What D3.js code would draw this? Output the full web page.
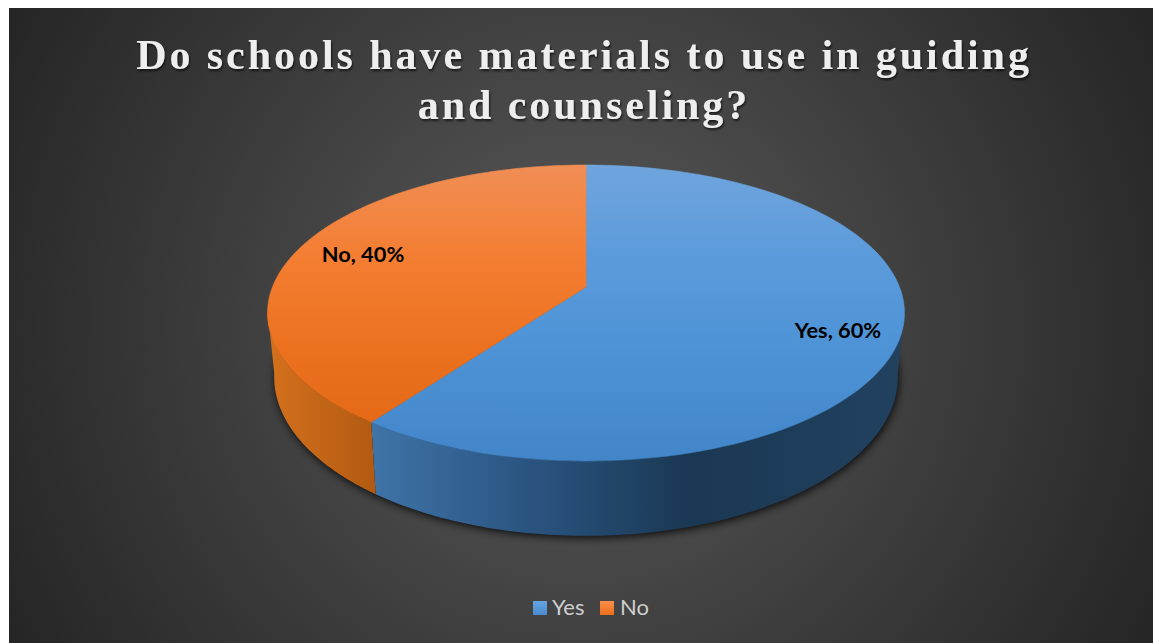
<!DOCTYPE html>
<html>
<head>
<meta charset="utf-8">
<script src="https://cdn.jsdelivr.net/npm/d3@7"></script>
<style>
html,body{margin:0;padding:0;background:#fff;}
svg{display:block;}
</style>
</head>
<body>
<svg id="chart" width="1153" height="643"></svg>
<script>
const titleLines = ["Do schools have materials to use in guiding", "and counseling?"];
const categories = ["Yes", "No"];
const shares = [60, 40];
const topStops = [
  [[0, "#70a5de"], [0.3, "#5c9bdb"], [0.55, "#5095d7"], [1, "#4286c9"]],
  [[0, "#f08e55"], [0.3, "#f47e33"], [0.6, "#ec7220"], [1, "#e26612"]]
];
const keyStops = [
  [[0, "#66a3e0"], [1, "#4a8ccf"]],
  [[0, "#f98f4c"], [1, "#ec6f1a"]]
];
const sideStops = [
  [[0, "#3f74a8"], [0.3, "#2a5480"], [0.6, "#1a3853"], [1, "#21415f"]],
  [[0, "#d3701c"], [1, "#b25a12"]]
];

const svg = d3.select("#chart");
const defs = svg.append("defs");

const addStops = (grad, stops) => stops.forEach(s =>
  grad.append("stop").attr("offset", s[0]).attr("stop-color", s[1]));

// backdrop: radial glow that falls off toward the corners
const bg = defs.append("radialGradient").attr("id", "bg")
  .attr("gradientUnits", "userSpaceOnUse")
  .attr("cx", 581).attr("cy", 325).attr("r", 640);
addStops(bg, [[0, "#5a5a5a"], [1, "#262626"]]);

categories.forEach((c, i) => {
  addStops(defs.append("linearGradient").attr("id", "top" + i)
    .attr("gradientUnits", "userSpaceOnUse")
    .attr("x1", 0).attr("x2", 0).attr("y1", 165).attr("y2", 461), topStops[i]);
  addStops(defs.append("linearGradient").attr("id", "key" + i)
    .attr("x1", 0).attr("x2", 0).attr("y1", 0).attr("y2", 1), keyStops[i]);
});

// side walls shade horizontally across their own span
const sideSpans = [[371, 900], [270, 376]];
categories.forEach((c, i) => {
  addStops(defs.append("linearGradient").attr("id", "side" + i)
    .attr("gradientUnits", "userSpaceOnUse")
    .attr("x1", sideSpans[i][0]).attr("x2", sideSpans[i][1]).attr("y1", 0).attr("y2", 0), sideStops[i]);
});

const soft = defs.append("filter").attr("id", "soft")
  .attr("x", "-10%").attr("y", "-10%").attr("width", "120%").attr("height", "120%");
soft.append("feGaussianBlur").attr("stdDeviation", 4);

const titleShadow = defs.append("filter").attr("id", "titleShadow")
  .attr("x", "-5%").attr("y", "-20%").attr("width", "110%").attr("height", "140%");
titleShadow.append("feDropShadow").attr("dx", 1).attr("dy", 2).attr("stdDeviation", 1.2)
  .attr("flood-color", "#000").attr("flood-opacity", 0.65);

svg.append("rect").attr("x", 9).attr("y", 8).attr("width", 1144).attr("height", 635).attr("fill", "url(#bg)");

// perspective discs: upper face and lower rim, parameterised by angle clockwise from twelve o'clock
const upper = { cx: 586, cy: 287, a: 313.5, b: 143.4, k: 0.1757 };
const lower = { cx: 586, cy: 349, a: 307, b: 154, k: 0.1757 };
const project = (d, t) => {
  const u = Math.sin(t), v = -Math.cos(t), w = 1 - d.k * v;
  return [d.cx + d.a * u / w, d.cy + d.b * v / w];
};
const sweep = (d, t0, t1) => d3.range(0, 121).map(n => project(d, t0 + (t1 - t0) * n / 120));
const line = d3.line();

const slices = d3.pie().sort(null).value(v => v)(shares);

// ground shadow hugging the lower rim, slightly right and below
svg.append("path")
  .attr("d", line(sweep(lower, 0, 2 * Math.PI)) + "Z")
  .attr("transform", "translate(1,2)")
  .attr("fill", "#000").attr("opacity", 0.85).attr("filter", "url(#soft)");

// side walls between the two silhouette tangents of the disc
const faceStart = Math.PI / 2 + 0.155, faceEnd = 3 * Math.PI / 2 - 0.155;
slices.forEach((s, i) => {
  const t0 = Math.max(s.startAngle, faceStart), t1 = Math.min(s.endAngle, faceEnd);
  svg.append("path")
    .attr("d", line(sweep(upper, t0, t1).concat(sweep(lower, t1, t0))) + "Z")
    .attr("fill", `url(#side${i})`);
});

// upper faces, with a hairline of their own fill to close the seam between slices
slices.forEach((s, i) => {
  svg.append("path")
    .attr("d", line([[upper.cx, upper.cy]].concat(sweep(upper, s.startAngle, s.endAngle))) + "Z")
    .attr("fill", `url(#top${i})`)
    .attr("stroke", `url(#top${i})`).attr("stroke-width", 0.6);
});

// slice labels
const labelAnchors = [[838, 338], [363, 262]];
categories.forEach((c, i) => {
  svg.append("text")
    .attr("x", labelAnchors[i][0]).attr("y", labelAnchors[i][1])
    .attr("text-anchor", "middle")
    .attr("font-family", "Lato, sans-serif").attr("font-weight", 700).attr("font-size", 21.8)
    .attr("fill", "#000")
    .text(`${c}, ${shares[i]}%`);
});

// title
svg.append("g").attr("filter", "url(#titleShadow)")
  .selectAll("text").data(titleLines).join("text")
  .attr("x", 584).attr("y", (d, i) => 69 + i * 50)
  .attr("text-anchor", "middle")
  .attr("font-family", "'Liberation Serif', serif").attr("font-weight", 700)
  .attr("font-size", 42).attr("letter-spacing", 2.95)
  .attr("fill", "#eeeeee")
  .text(d => d);

// legend
const keyX = [533, 600], textX = [552, 620];
categories.forEach((c, i) => {
  svg.append("rect").attr("x", keyX[i]).attr("y", 601).attr("width", 14).attr("height", 14)
    .attr("fill", `url(#key${i})`);
  svg.append("text").attr("x", textX[i]).attr("y", 615)
    .attr("font-family", "Lato, sans-serif").attr("font-size", 22)
    .attr("fill", "#cfcfcf").text(c);
});
</script>
</body>
</html>
